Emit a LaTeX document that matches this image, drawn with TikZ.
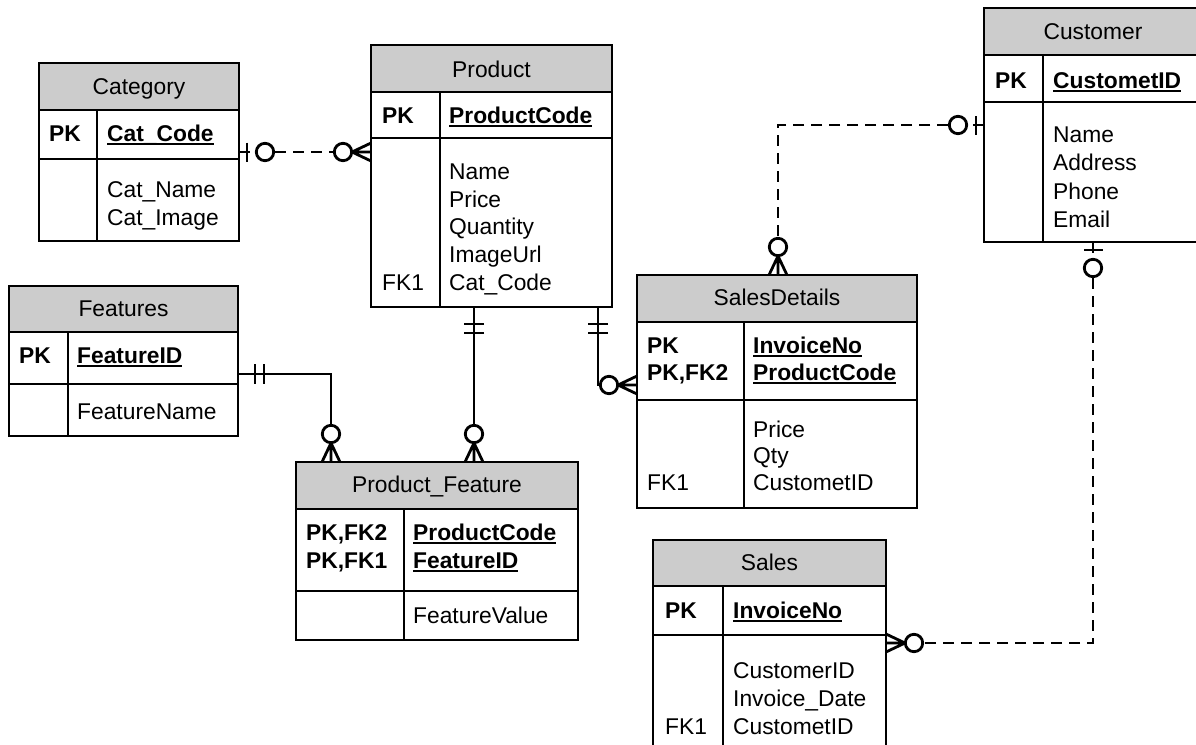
\documentclass[tikz,border=0pt]{standalone}
\usepackage{fontspec}
\setmainfont{Liberation Sans}
\newcommand{\keyul}[1]{\setbox0\hbox{#1}\rlap{\rule[-3.6pt]{\wd0}{2pt}}\box0}
\newcommand{\ertable}[8]{%
  \fill[hdr] (#2,#3) rectangle (#4,#6);
  \node[tbox, minimum width={(#4-#2)*1pt}, minimum height={(#5-#3)*1pt}] (#1) at (#2,#3) {};
  \draw[tline] (#2,#6) -- (#4,#6) (#2,#7) -- (#4,#7) (#8,#6) -- (#8,#5);
}
\begin{document}
\begin{tikzpicture}[x=1pt,y=-1pt,
  hdr/.style={fill=black!20},
  tbox/.style={draw, line width=2pt, inner sep=0pt, outer sep=0pt, anchor=north west},
  tline/.style={line width=2pt},
  txt/.style={inner sep=0pt, anchor=base west, font=\fontsize{22.8}{27}\selectfont},
  htxt/.style={inner sep=0pt, anchor=base, font=\fontsize{22.8}{27}\selectfont},
  ktxt/.style={inner sep=0pt, anchor=base west, font=\fontsize{22.8}{27}\selectfont\bfseries},
  rel/.style={line width=2.8pt},
  opt/.style={rel, dash pattern=on 11pt off 7pt},
  crowo/.pic={
    \draw[rel,solid,line join=miter] (0,-9) -- (19,0) -- (0,9) (0,0) -- (19,0);
    \draw[rel,solid,fill=white] (28,0) circle[radius=8.7pt];
  },
  zeroone/.pic={
    \draw[rel,solid] (8,-9.5) -- (8,9.5);
    \draw[rel,solid,fill=white] (26,0) circle[radius=8.7pt];
  },
  oneone/.pic={
    \draw[rel,solid] (17,-10) -- (17,10) (26,-10) -- (26,10);
  }
]
\useasboundingbox (0,0) rectangle (1196,744);
\fill[white] (0,0) rectangle (1196,744);

% tables
\ertable{cat}{39}{63}{239}{241}{110}{159}{97}
\ertable{prod}{371}{45}{612}{307}{92}{138}{440}
\ertable{cust}{984}{8}{1200}{242}{55}{102}{1043}
\ertable{feat}{9}{286}{238}{436}{332}{384}{68}
\ertable{pf}{296}{462}{578}{640}{509}{591}{404}
\ertable{sd}{637}{275}{917}{508}{322}{400}{744}
\ertable{sales}{653}{540}{886}{770}{586}{635}{723}

% Category
\node[htxt] (catH) at (139,94) {Category};
\node[ktxt] (catPK) at (49,141) {PK};
\node[ktxt] (catK) at (107,141) {\keyul{Cat\_Code}};
\node[txt] (catA1) at (107,197) {Cat\_Name};
\node[txt] (catA2) at (107,225) {Cat\_Image};

% Product
\node[htxt] (prodH) at (491.5,77) {Product};
\node[ktxt] (prodPK) at (382,123) {PK};
\node[ktxt] (prodK) at (449,123) {\keyul{ProductCode}};
\node[txt] (prodA1) at (449,179) {Name};
\node[txt] (prodA2) at (449,207) {Price};
\node[txt] (prodA3) at (449,234.5) {Quantity};
\node[txt] (prodA4) at (449,262) {ImageUrl};
\node[txt] (prodA5) at (449,290) {Cat\_Code};
\node[txt] (prodF) at (382,290) {FK1};

% Customer
\node[htxt] (custH) at (1093,39) {Customer};
\node[ktxt] (custPK) at (995,88) {PK};
\node[ktxt] (custK) at (1053,88) {\keyul{CustometID}};
\node[txt] (custA1) at (1053,142) {Name};
\node[txt] (custA2) at (1053,170.5) {Address};
\node[txt] (custA3) at (1053,199) {Phone};
\node[txt] (custA4) at (1053,227) {Email};

% Features
\node[htxt] (featH) at (123.5,316) {Features};
\node[ktxt] (featPK) at (19,363) {PK};
\node[ktxt] (featK) at (77,363) {\keyul{FeatureID}};
\node[txt] (featA1) at (77,419) {FeatureName};

% Product_Feature
\node[htxt] (pfH) at (437,492) {Product\_Feature};
\node[ktxt] (pfPK1) at (306,540) {PK,FK2};
\node[ktxt] (pfPK2) at (306,568) {PK,FK1};
\node[ktxt] (pfK1) at (413,540) {\keyul{ProductCode}};
\node[ktxt] (pfK2) at (413,568) {\keyul{FeatureID}};
\node[txt] (pfA1) at (413,623) {FeatureValue};

% SalesDetails
\node[htxt] (sdH) at (777,305) {SalesDetails};
\node[ktxt] (sdPK1) at (647,353) {PK};
\node[ktxt] (sdPK2) at (647,380) {PK,FK2};
\node[ktxt] (sdK1) at (753,353) {\keyul{InvoiceNo}};
\node[ktxt] (sdK2) at (753,380) {\keyul{ProductCode}};
\node[txt] (sdA1) at (753,437) {Price};
\node[txt] (sdA2) at (753,463) {Qty};
\node[txt] (sdA3) at (753,490) {CustometID};
\node[txt] (sdF) at (647,490) {FK1};

% Sales
\node[htxt] (salesH) at (769.5,570) {Sales};
\node[ktxt] (salesPK) at (665,618) {PK};
\node[ktxt] (salesK) at (733,618) {\keyul{InvoiceNo}};
\node[txt] (salesA1) at (733,678) {CustomerID};
\node[txt] (salesA2) at (733,706.5) {Invoice\_Date};
\node[txt] (salesA3) at (733,734) {CustometID};
\node[txt] (salesF) at (665,734) {FK1};

% connectors
\draw[opt] (cat.east |- 0,152) -- (prod.west |- 0,152);
\draw[rel] (prod.south -| 474,0) -- (pf.north -| 474,0);
\draw[rel] (feat.east |- 0,374) -| (pf.north -| 331,0);
\draw[rel] (prod.south -| 598,0) |- (sd.west |- 0,385);
\draw[opt] (cust.west |- 0,125) -| (sd.north -| 778,0);
\draw[opt] (cust.south -| 1093,0) |- (sales.east |- 0,643);

% end symbols
\path (cat.east |- 0,152) pic{zeroone};
\path (prod.west |- 0,152) pic[rotate=180]{crowo};
\path (prod.south -| 474,0) pic[rotate=-90]{oneone};
\path (pf.north -| 474,0) pic[rotate=90]{crowo};
\path (feat.east |- 0,374) pic{oneone};
\path (pf.north -| 331,0) pic[rotate=90]{crowo};
\path (prod.south -| 598,0) pic[rotate=-90]{oneone};
\path (sd.west |- 0,385) pic[rotate=180]{crowo};
\path (cust.west |- 0,125) pic[rotate=180]{zeroone};
\path (sd.north -| 778,0) pic[rotate=90]{crowo};
\path (cust.south -| 1093,0) pic[rotate=-90]{zeroone};
\path (sales.east |- 0,643) pic{crowo};
\end{tikzpicture}
\end{document}
